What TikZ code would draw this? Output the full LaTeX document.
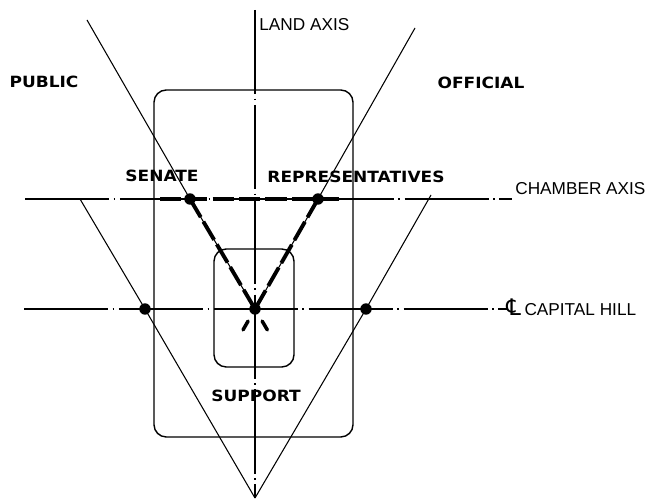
\documentclass[tikz,border=0pt]{standalone}
\usepackage{fontspec}
\setmainfont{Liberation Sans}
\newfontfamily\signfont{DejaVu Sans}
\newfontfamily\zonefont[FakeStretch=1.1]{DejaVu Sans}
\usetikzlibrary{positioning, calc}

\begin{document}
\begin{tikzpicture}[
    x=0.02cm, y=-0.02cm,
    axisline/.style={line width=0.7pt, dash pattern=on 48pt off 2.5pt on 1pt off 2.5pt},
    guide/.style={line width=0.6pt},
    wall/.style={line width=0.8pt, rounded corners=7pt},
    heavydash/.style={line width=2.2pt, dash pattern=on 12pt off 3pt},
    pivot/.style={circle, fill, inner sep=0pt, minimum size=6.5pt},
    zone/.style={font=\zonefont\bfseries\fontsize{8.8}{10}\selectfont, inner sep=0pt},
    axislabel/.style={font=\fontsize{9.8}{11}\selectfont, anchor=west, inner sep=0pt}
]
\useasboundingbox (0,0) rectangle (659,502);

% ==========================================
% Axes
\coordinate (land top) at (255,10);
\coordinate (apex) at (255,498);
\coordinate (chamber west) at (25,199);
\coordinate (chamber east) at (512,199);
\coordinate (hill west) at (24,309);
\coordinate (hill east) at (507,309);
\draw[axisline] (land top) -- (apex);
\draw[axisline] (chamber west) -- (chamber east);
\draw[axisline] (hill west) -- (hill east);

% Building outlines
\draw[wall] (154,90) rectangle (353,437);
\draw[wall] (214,249) rectangle (294,367);

% Pivot points
\node[pivot] (senate dot) at (190,199) {};
\node[pivot] (reps dot) at (318,199) {};
\node[pivot] (hub) at (255,309) {};
\node[pivot] (public dot) at (145,309) {};
\node[pivot] (official dot) at (366,309) {};

% ==========================================
% Upper V: sight lines meeting at the hub
\coordinate (sight west) at (87,20);
\coordinate (sight east) at (415,28);
\draw[guide] (sight west) -- (senate dot.center) -- (hub.center);
\draw[guide] (sight east) -- (reps dot.center) -- (hub.center);

% Lower V: through the outer pivots down to the apex
\coordinate (foot west) at (80,199);
\coordinate (foot east) at (431,195);
\draw[guide] (foot west) -- (public dot.center) -- (apex);
\draw[guide] (foot east) -- (official dot.center) -- (apex);

% Heavy dashed chamber links
\coordinate (bar west) at (160,199);
\coordinate (bar east) at (340,199);
\draw[heavydash] (bar west) -- (bar east);
\draw[heavydash] (senate dot.center) -- (hub.center);
\draw[heavydash] (reps dot.center) -- (hub.center);
\draw[line width=2pt, line cap=round] ($(senate dot.center)!1.11!(hub.center)$) -- ($(senate dot.center)!1.19!(hub.center)$);
\draw[line width=2pt, line cap=round] ($(reps dot.center)!1.11!(hub.center)$) -- ($(reps dot.center)!1.19!(hub.center)$);

% ==========================================
% Labels
\node[zone] (public) at (44,82) {PUBLIC};
\node[zone] (official) at (481,83) {OFFICIAL};
\node[zone] (senate) at (162,176) {SENATE};
\node[zone] (reps) at (356,177) {REPRESENTATIVES};
\node[zone] (support) at (256,396) {SUPPORT};
\node[axislabel] (land) at (259,25) {LAND AXIS};
\node[axislabel] (chamber) at (515,189) {CHAMBER AXIS};
\node[axislabel] (hill) at (506,307) {{\signfont\fontsize{13}{13}\selectfont ℄}\hspace{2pt}CAPITAL HILL};

\end{tikzpicture}
\end{document}
